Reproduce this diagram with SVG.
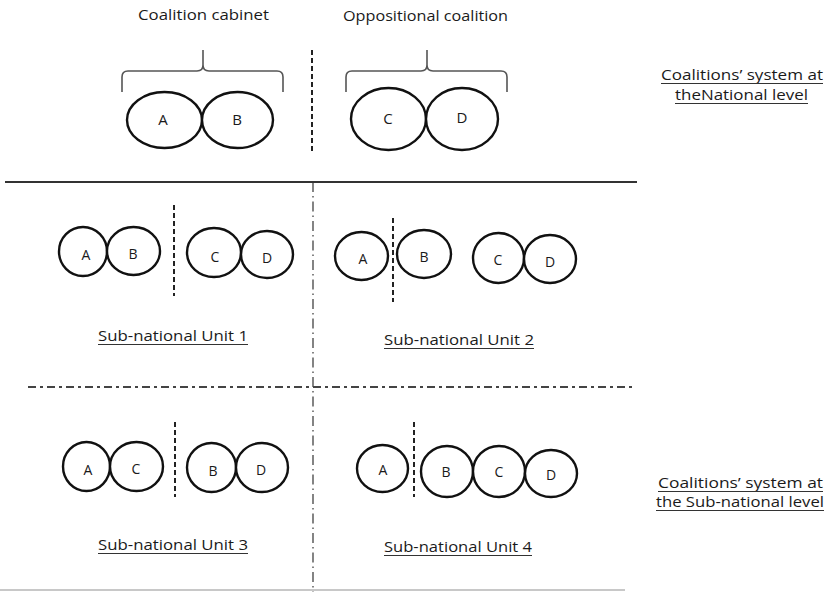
<svg xmlns="http://www.w3.org/2000/svg" width="827" height="592" viewBox="0 0 827 592">
<defs>
<style>
.bg{fill:#ffffff}
.el{fill:#ffffff;stroke:#111;stroke-width:2.4}
.lt{font-family:"Open Sans","Liberation Sans",sans-serif;font-size:14px;fill:#1a1a1a;text-anchor:middle}
.ltb{font-family:"Open Sans","Liberation Sans",sans-serif;font-size:15px;fill:#1a1a1a;text-anchor:middle}
.lab{font-family:"Open Sans","Liberation Sans",sans-serif;font-size:15px;fill:#1a1a1a}
.ul{stroke:#333;stroke-width:1.2}
.sep{stroke:#222;stroke-width:2;stroke-dasharray:5 3;fill:none}
.dd{stroke:#333;stroke-width:1.2;stroke-dasharray:10 4 1.5 4;fill:none}
.ddh{stroke:#444;stroke-width:2;stroke-dasharray:8 4 3 4;fill:none}
.brace{stroke:#555;stroke-width:1.6;fill:none}
</style>
</defs>
<rect class="bg" x="0" y="0" width="827" height="592"/>

<g id="connectors">
  <line x1="5" y1="182" x2="637" y2="182" stroke="#333" stroke-width="2"/>
  <line class="dd" x1="313" y1="182" x2="313" y2="592"/>
  <line class="ddh" x1="28" y1="387" x2="632" y2="387"/>
  <line x1="0" y1="590" x2="625" y2="590" stroke="#c8c8c8" stroke-width="2"/>
  <line class="sep" x1="312" y1="50" x2="312" y2="153"/>
  <line class="sep" x1="174" y1="205" x2="174" y2="296"/>
  <line class="sep" x1="393" y1="218" x2="393" y2="302"/>
  <line class="sep" x1="175" y1="422" x2="175" y2="497"/>
  <line class="sep" x1="414" y1="422" x2="414" y2="497"/>
  <path class="brace" d="M122,92 V77 Q122,71 128,71 H197 Q203,71 203,65 V50 M203,65 Q203,71 209,71 H277 Q283,71 283,77 V92"/>
  <path class="brace" d="M346,92 V77 Q346,71 352,71 H421 Q427,71 427,65 V50 M427,65 Q427,71 433,71 H501 Q507,71 507,77 V92"/>
</g>

<g id="labels">
  <text class="lab" x="138" y="20" textLength="131" lengthAdjust="spacingAndGlyphs">Coalition cabinet</text>
  <text class="lab" x="343" y="21" textLength="165" lengthAdjust="spacingAndGlyphs">Oppositional coalition</text>
  <g id="national-label">
    <text class="lab" x="661" y="80" textLength="162" lengthAdjust="spacingAndGlyphs">Coalitions’ system at</text>
    <line class="ul" x1="661" y1="83.5" x2="823" y2="83.5"/>
    <text class="lab" x="675" y="100" textLength="133" lengthAdjust="spacingAndGlyphs">theNational level</text>
    <line class="ul" x1="675" y1="103.5" x2="808" y2="103.5"/>
  </g>
  <g id="subnational-label">
    <text class="lab" x="658" y="488" textLength="165" lengthAdjust="spacingAndGlyphs">Coalitions’ system at</text>
    <line class="ul" x1="658" y1="491.5" x2="823" y2="491.5"/>
    <text class="lab" x="656" y="507" textLength="168" lengthAdjust="spacingAndGlyphs">the Sub-national level</text>
    <line class="ul" x1="656" y1="510.5" x2="824" y2="510.5"/>
  </g>
  <g id="unit1-label">
    <text class="lab" x="98" y="341" textLength="150" lengthAdjust="spacingAndGlyphs">Sub-national Unit 1</text>
    <line class="ul" x1="98" y1="344.5" x2="248" y2="344.5"/>
  </g>
  <g id="unit2-label">
    <text class="lab" x="384" y="345" textLength="150" lengthAdjust="spacingAndGlyphs">Sub-national Unit 2</text>
    <line class="ul" x1="384" y1="348.5" x2="534" y2="348.5"/>
  </g>
  <g id="unit3-label">
    <text class="lab" x="98" y="550" textLength="150" lengthAdjust="spacingAndGlyphs">Sub-national Unit 3</text>
    <line class="ul" x1="98" y1="553.5" x2="248" y2="553.5"/>
  </g>
  <g id="unit4-label">
    <text class="lab" x="384" y="552" textLength="148" lengthAdjust="spacingAndGlyphs">Sub-national Unit 4</text>
    <line class="ul" x1="384" y1="555.5" x2="532" y2="555.5"/>
  </g>
</g>

<g id="nat-A"><ellipse class="el" cx="164.5" cy="120" rx="37.5" ry="28"/><text class="ltb" x="163" y="125">A</text></g>
<g id="nat-B"><ellipse class="el" cx="237.5" cy="120" rx="35.5" ry="28"/><text class="ltb" x="237" y="125">B</text></g>
<g id="nat-C"><ellipse class="el" cx="388.5" cy="119" rx="37.5" ry="31"/><text class="ltb" x="388" y="124">C</text></g>
<g id="nat-D"><ellipse class="el" cx="462" cy="119" rx="36" ry="31"/><text class="ltb" x="462" y="123">D</text></g>

<g id="u1-A"><ellipse class="el" cx="83" cy="251.5" rx="24" ry="24.5"/><text class="lt" x="86" y="260">A</text></g>
<g id="u1-B"><ellipse class="el" cx="133.5" cy="251" rx="26.5" ry="24"/><text class="lt" x="133" y="259">B</text></g>
<g id="u1-C"><ellipse class="el" cx="214" cy="252.5" rx="27" ry="24.5"/><text class="lt" x="215" y="262">C</text></g>
<g id="u1-D"><ellipse class="el" cx="267" cy="254.5" rx="26" ry="23.5"/><text class="lt" x="267" y="263">D</text></g>

<g id="u2-A"><ellipse class="el" cx="361.5" cy="256" rx="26.5" ry="24"/><text class="lt" x="363" y="264">A</text></g>
<g id="u2-B"><ellipse class="el" cx="424" cy="254" rx="27" ry="24"/><text class="lt" x="424" y="262">B</text></g>
<g id="u2-C"><ellipse class="el" cx="498.5" cy="258" rx="25.5" ry="25"/><text class="lt" x="498" y="265">C</text></g>
<g id="u2-D"><ellipse class="el" cx="550" cy="259" rx="26" ry="24"/><text class="lt" x="550" y="267">D</text></g>

<g id="u3-A"><ellipse class="el" cx="86.5" cy="466.5" rx="23.5" ry="24.5"/><text class="lt" x="88" y="475">A</text></g>
<g id="u3-C"><ellipse class="el" cx="136.5" cy="466.5" rx="26.5" ry="24.5"/><text class="lt" x="136" y="474">C</text></g>
<g id="u3-B"><ellipse class="el" cx="211.5" cy="467.5" rx="24.5" ry="24.5"/><text class="lt" x="213" y="476">B</text></g>
<g id="u3-D"><ellipse class="el" cx="262" cy="467.5" rx="26" ry="24.5"/><text class="lt" x="261" y="475">D</text></g>

<g id="u4-A"><ellipse class="el" cx="382.5" cy="468.5" rx="25.5" ry="23.5"/><text class="lt" x="383" y="475">A</text></g>
<g id="u4-B"><ellipse class="el" cx="447" cy="471.5" rx="26" ry="25.5"/><text class="lt" x="446" y="477">B</text></g>
<g id="u4-C"><ellipse class="el" cx="499" cy="471.5" rx="26" ry="25.5"/><text class="lt" x="499" y="477">C</text></g>
<g id="u4-D"><ellipse class="el" cx="551" cy="473.5" rx="26" ry="23.5"/><text class="lt" x="551" y="480">D</text></g>
</svg>
